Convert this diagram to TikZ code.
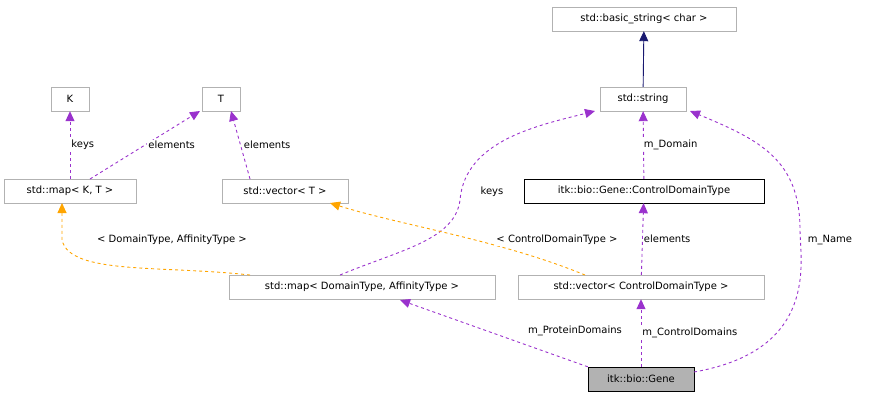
\documentclass[tikz,border=0pt]{standalone}
\usepackage{fontspec}
\setmainfont{DejaVu Sans}
\usetikzlibrary{arrows.meta}
\definecolor{purp}{HTML}{9A32CD}
\definecolor{orng}{HTML}{FFA500}
\definecolor{navy}{HTML}{191970}
\begin{document}
\begin{tikzpicture}[x=1pt,y=-1pt,
  box/.style={draw=gray!60,fill=white,inner sep=0pt,minimum height=24pt,text=black,font=\fontsize{10}{11}\selectfont},
  lab/.style={font=\fontsize{10}{11}\selectfont,text=black,fill=white,inner sep=1pt},
  dep/.style={purp,dashed,line width=0.9pt,-{Triangle[length=10pt,width=9pt]}},
  tmpl/.style={orng,dashed,line width=0.9pt,-{Triangle[length=10pt,width=9pt]}}]
\useasboundingbox (0,0) rectangle (869,400);
\node[box,minimum width=184pt] (bs) at (644,19) {std::basic\_string< char >};
\node[box,minimum width=86pt] (str) at (643,99) {std::string};
\node[box,draw=black,minimum width=240pt] (cdt) at (644,191) {itk::bio::Gene::ControlDomainType};
\node[box,minimum width=246pt] (vcdt) at (641,287) {std::vector< ControlDomainType >};
\node[box,draw=black,fill=gray!60,minimum width=106pt] (gene) at (641,379) {itk::bio::Gene};
\node[box,minimum width=266pt] (mdt) at (362,287) {std::map< DomainType, AffinityType >};
\node[box,minimum width=38pt] (K) at (70,99) {K};
\node[box,minimum width=38pt] (T) at (221,99) {T};
\node[box,minimum width=132pt] (mkt) at (70,191) {std::map< K, T >};
\node[box,minimum width=126pt] (vt) at (285,191) {std::vector< T >};

\draw[navy,line width=0.9pt,-{Triangle[length=10pt,width=9pt]}] (str) -- (bs);
\draw[dep] (cdt) -- node[lab,right,xshift=-1pt] {m\_Domain} (str);
\draw[dep] (vcdt) -- node[lab,right] {elements} (cdt);
\draw[dep] (gene) -- node[lab,right] {m\_ControlDomains} (vcdt);
\draw[dep] (gene.north west) -- (400,300);
\node[lab] (lpd) at (575,331) {m\_ProteinDomains};
\draw[dep] (694,372) .. controls (820,350) and (800,260) .. (800,230) .. controls (800,160) and (760,140) .. (690,111);
\node[lab] (ln) at (830,240) {m\_Name};
\draw[dep] (340,275) .. controls (400,250) and (455,240) .. (460,200) .. controls (465,140) and (540,125) .. (595,111);
\node[lab] (lk) at (492,192) {keys};
\draw[dep] (mkt.north) -- node[lab,right] {keys} (K);
\draw[dep] (90,179) -- node[lab,right,xshift=2pt] {elements} (200,111);
\draw[dep] (250,179) -- node[lab,right,xshift=2pt] {elements} (231,111);
\draw[tmpl] (250,275) .. controls (160,265) and (70,275) .. (62,240) -- (62,203);
\node[lab] (lda) at (172,240) {< DomainType, AffinityType >};
\draw[tmpl] (585,275) .. controls (500,240) and (400,225) .. (330,203);
\node[lab] (lcd) at (557,240) {< ControlDomainType >};
\end{tikzpicture}
\end{document}
